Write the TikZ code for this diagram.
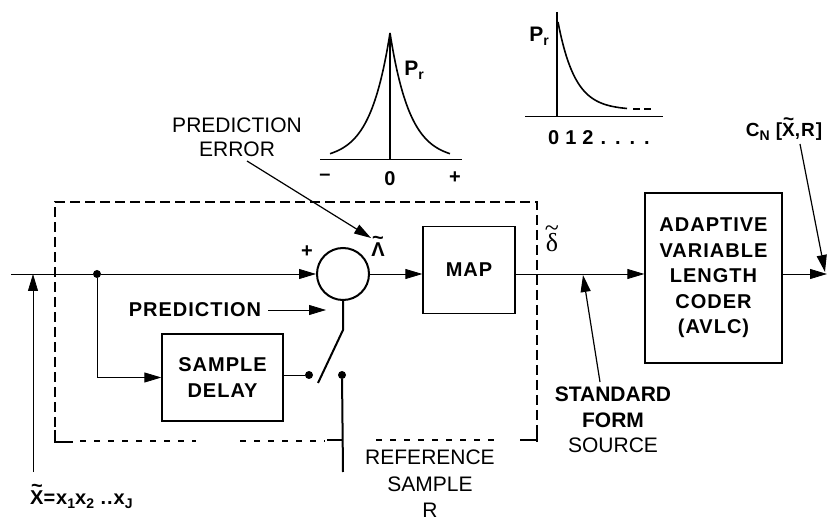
\documentclass[tikz,border=0pt]{standalone}
\usepackage{fontspec}
\setmainfont{Liberation Sans}
\newfontfamily\lbl[LetterSpace=5]{Liberation Sans}
\newfontfamily\srf{Liberation Serif}
\usetikzlibrary{arrows.meta}
\newcommand{\sbs}[1]{\raisebox{-0.35ex}{\fontsize{14}{14}\selectfont #1}}
\newcommand{\tl}[2][0.6em]{\ooalign{#2\cr\hidewidth\raisebox{#1}{\textasciitilde}\hidewidth\cr}}
\tikzset{
  sig/.style={line width=0.8pt},
  arr/.style={sig, -{Triangle[length=17pt,width=10pt]}},
  blk/.style={draw, line width=1.3pt, inner sep=0pt, align=center,
              font=\lbl\bfseries\fontsize{20}{25.5}\selectfont},
  dot/.style={circle, fill, inner sep=0pt, minimum size=8pt},
  lab/.style={font=\fontsize{21}{24}\selectfont, align=center, inner sep=0pt},
  bl/.style={font=\lbl\bfseries\fontsize{20}{22}\selectfont, inner sep=0pt},
  thickdash/.style={line width=2.5pt, dash pattern=on 10pt off 5pt},
  thindash/.style={line width=1.2pt, dash pattern=on 6pt off 8pt},
  curve/.style={line width=1.6pt},
  axis/.style={line width=1pt},
}
\begin{document}
\begin{tikzpicture}[x=1pt,y=-1pt]
\useasboundingbox (0,0) rectangle (828,521);

% ---- blocks
\node[draw, circle, line width=2pt, minimum size=52pt, inner sep=0pt] (sum) at (343,274) {};
\node[blk, minimum width=92pt, minimum height=87pt] (map) at (469,270) {MAP};
\node[blk, minimum width=137pt, minimum height=170pt] (avlc) at (713.5,278)
  {ADAPTIVE\\VARIABLE\\LENGTH\\CODER\\(AVLC)};
\node[blk, minimum width=121pt, minimum height=87pt] (delay) at (222.5,377.5)
  {SAMPLE\\DELAY};

% ---- main signal line
\coordinate (ml) at (0,274);
\coordinate (in) at (11,274);
\node[dot] (j) at (97,274) {};
\coordinate (out) at (827,274);
\draw[sig] (in) -- (j);
\draw[arr] (j) -- (sum.west);
\draw[arr] (sum.east) -- (map.west |- ml);
\draw[arr] (map.east |- ml) -- (avlc.west |- ml);
\draw[arr] (avlc.east |- ml) -- (out);

% ---- input label
\node[bl, anchor=west] (xlab) at (30,500)
  {\tl{X}=x\sbs{1}x\sbs{2} ..x\sbs{J}};
\coordinate (xb) at (33,472);
\draw[arr] (xb) -- (xb |- ml);

% ---- delay path and switch
\draw[arr] (j) |- (delay.west);
\node[dot] (s1) at (309,375) {};
\node[dot] (s2) at (342,375) {};
\draw[sig] (s1 -| delay.east) -- (s1);
\coordinate (k) at (343,330);
\coordinate (sw) at (318,383);
\draw[line width=2pt] (sum.south) -- (k) -- (sw);
\coordinate (rb) at (343,472);
\draw[line width=2pt] (s2) -- (rb);

% ---- prediction
\node[bl] (pred) at (195,310) {PREDICTION};
\coordinate (pe) at (326,310);
\draw[arr] ([xshift=7pt]pred.east) -- (pe);
\node[bl] (plus) at (307,252) {+};
\node[bl] (lam) at (378,250) {\tl{Λ}};

% ---- prediction error label
\node[lab] (perr) at (237,137) {PREDICTION\\ERROR};
\coordinate (pes) at (247,161);
\coordinate (pet) at (371,238);
\draw[arr, line width=1.2pt] (pes) -- (pet);

% ---- dashed box
\draw[thickdash] (55,442) -- (55,202) -- (537,202) -- (537,442);
\draw[line width=2.5pt] (55,430) -- (55,442) -- (73,442);
\draw[line width=2.5pt] (520,440) -- (537,440) -- (537,428);
\draw[line width=2.5pt] (327,440) -- (343,440);
\draw[thindash] (80,441) -- (196,441);
\draw[thindash] (240,441) -- (325,441);
\draw[thindash] (376,440) -- (494,440);

% ---- delta and standard form source
\node[inner sep=0pt, font=\srf\fontsize{26}{26}\selectfont] (del) at (552,242) {\tl[0.55em]{δ}};
\node[lab, font=\fontsize{21}{25.5}\selectfont] (sfs) at (613,420)
  {{\bfseries STANDARD}\\{\bfseries FORM}\\SOURCE};
\coordinate (sfb) at (600,382);
\coordinate (sft) at (583,275);
\draw[arr, line width=1.2pt] (sfb) -- (sft);

% ---- reference sample
\node[lab, font=\fontsize{21}{26.5}\selectfont] (ref) at (430,484) {REFERENCE\\SAMPLE\\R};

% ---- output code label
\node[bl, font=\lbl\bfseries\fontsize{19}{20}\selectfont] (cn) at (784,132)
  {C\sbs{N} [\tl{X},R]};
\coordinate (cnb) at (800,144);
\coordinate (cnt) at (825,272);
\draw[arr, line width=1.2pt] (cnb) -- (cnt);

% ---- two-sided distribution
\draw[curve] plot[domain=330:390, samples=60] (\x,{160-127*exp(-(390-\x)/20)});
\draw[curve] plot[domain=390:450, samples=60] (\x,{160-127*exp(-(\x-390)/20)});
\draw[line width=1.3pt] (390,33) -- (390,160);
\draw[axis] (320,160) -- (462,160);
\node[bl] (pr1) at (414,70) {\fontsize{21}{21}\selectfont P\sbs{r}};
\node[bl] (mn) at (325,177) {–};
\node[bl] (zr) at (390,179) {0};
\node[bl] (pl) at (455,178) {+};

% ---- one-sided distribution
\draw[line width=1.3pt] (557,12) -- (557,117);
\draw[axis] (525,117) -- (663,117);
\draw[curve] plot[domain=558:627, samples=60] (\x,{110-88*exp(-(\x-558)/17)});
\draw[line width=1.3pt] (633,109) -- (640,109) (644,109) -- (651,109);
\node[bl] (pr2) at (539,36) {\fontsize{21}{21}\selectfont P\sbs{r}};
\node[bl] (nums) at (599,138) {0\hspace{6pt}1\hspace{6pt}2\hspace{7pt}.\hspace{9pt}.\hspace{9pt}.\hspace{9pt}.};
\end{tikzpicture}
\end{document}
